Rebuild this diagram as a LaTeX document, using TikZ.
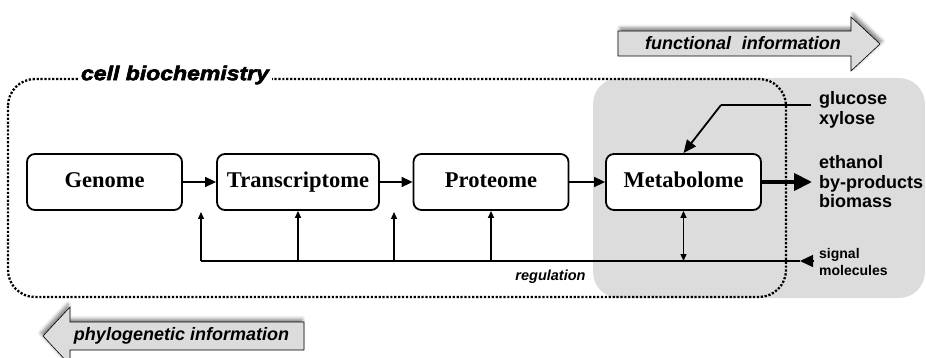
\documentclass[tikz,border=0pt]{standalone}
\usepackage{fontspec}
\setmainfont{Liberation Serif}
\setsansfont{Liberation Sans}
\newfontface\heavyface[FakeStretch=1.15,FakeBold=3]{Liberation Sans Bold Italic}
\usetikzlibrary{arrows.meta,shadows.blur}

\definecolor{panel}{HTML}{DCDCDC}
\definecolor{infofill}{HTML}{DCDCDC}

\begin{document}
\begin{tikzpicture}[x=1pt,y=-1pt,
  omebox/.style={draw, line width=1.8pt, rounded corners=8pt, fill=white,
    minimum width=155pt, minimum height=56pt, inner sep=0pt,
    text height=15.5pt, text depth=4.5pt,
    font=\fontsize{22.5}{27}\selectfont\bfseries},
  flow/.style={line width=1.4pt, -{Triangle[length=11pt,width=10pt]}},
  reg/.style={line width=1.3pt, -{Triangle[length=7pt,width=6pt]}},
  regboth/.style={line width=1.3pt, {Triangle[length=7pt,width=6pt]}-{Triangle[length=7pt,width=6pt]}},
  side/.style={font=\sffamily\bfseries\fontsize{18}{19.5}\selectfont,
    align=left, anchor=west, inner sep=0pt},
  cellline/.style={line width=2.3pt, dash pattern=on 2.2pt off 1.7pt},
  infoarrow/.style={draw=black, line width=0.6pt, fill=infofill,
    blur shadow={shadow xshift=#1, shadow yshift=3pt, shadow opacity=50,
      shadow blur radius=3.5pt}},
  infotext/.style={font=\sffamily\bfseries\itshape\fontsize{18}{21}\selectfont,
    inner sep=0pt}
]
\useasboundingbox (0,0) rectangle (926,358);

% metabolic exchange panel
\fill[panel, rounded corners=26pt] (593,78) rectangle (925,298);

% cell boundary
\draw[cellline, rounded corners=27pt] (8,79) rectangle (786,297);
\node[fill=white, inner xsep=3pt, inner ysep=1pt,
  font=\heavyface\fontsize{20}{24}\selectfont] (cellbio) at (175,75) {cell biochemistry};

% omics levels
\node[omebox] (genome) at (104.5,182) {Genome};
\node[omebox, minimum width=162pt] (transcriptome) at (298,182) {Transcriptome};
\node[omebox] (proteome) at (491,182) {Proteome};
\node[omebox] (metabolome) at (683.5,182) {Metabolome};

\draw[flow] (genome) -- (transcriptome);
\draw[flow] (transcriptome) -- (proteome);
\draw[flow] (proteome) -- (metabolome);

% inputs and outputs
\node[side] (sugars) at (819,110) {glucose\\xylose};
\node[side] (products) at (819,182) {ethanol\\by-products\\biomass};
\node[font=\sffamily\bfseries\fontsize{14}{17}\selectfont, align=left,
  anchor=west, inner sep=0pt] (signal) at (819,261.5) {signal\\molecules};

\coordinate (outtip) at (812,182);
\draw[line width=4pt, -{Triangle[length=18pt,width=17pt]}] (metabolome.east) -- (outtip);

\coordinate (sugin) at (811,105);
\coordinate (sugbend) at (721,105);
\draw[line width=2.8pt] (sugin) -- (sugbend);
\draw[line width=1.8pt, -{Triangle[length=13pt,width=11pt]}] (sugbend) -- (metabolome.north);

% regulation loop
\coordinate (regL) at (201,261);
\coordinate (regM) at (394,261);
\coordinate (sigtip) at (800,261);
\coordinate (sigin) at (813,261);
\draw[line width=1.3pt] (regL) -- (sigtip);
\draw[line width=1.3pt, -{Triangle[length=13pt,width=12pt]}] (sigin) -- (sigtip);

\draw[reg] (regL) -- ++(0,-49);
\draw[reg] (transcriptome.south |- regL) -- (transcriptome.south);
\draw[reg] (regM) -- ++(0,-49);
\draw[reg] (proteome.south |- regL) -- (proteome.south);
\draw[regboth] (metabolome.south |- regL) -- (metabolome.south);

\node[font=\sffamily\bfseries\itshape\fontsize{14.5}{17}\selectfont, inner sep=0pt]
  (reglabel) at (550.5,277) {regulation};

% information flow arrows
\draw[infoarrow=2pt] (618,31) -- (851,31) -- (851,17) -- (880,44) -- (851,71)
  -- (851,56) -- (618,56) -- cycle;
\node[infotext] (funcinfo) at (743,43.5) {functional\hspace{0.6em}information};

\draw[infoarrow=-2pt] (304,322) -- (70,322) -- (70,307) -- (43,336) -- (70,365)
  -- (70,350) -- (304,350) -- cycle;
\node[infotext] (phyloinfo) at (181.5,336) {phylogenetic information};
\end{tikzpicture}
\end{document}
